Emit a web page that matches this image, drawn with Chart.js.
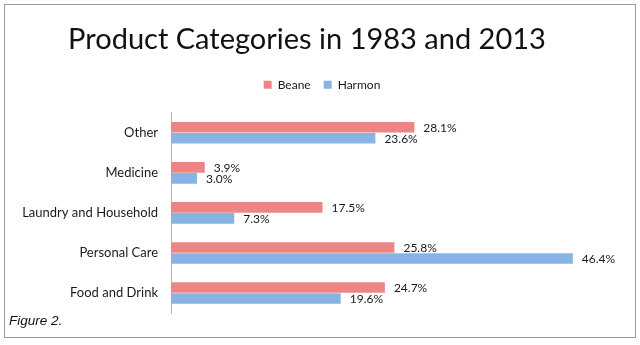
<!DOCTYPE html>
<html>
<head>
<meta charset="utf-8">
<script src="https://cdn.jsdelivr.net/npm/chart.js@4/dist/chart.umd.min.js"></script>
<style>
  body { margin: 0; background: #fff; }
  #wrap { position: relative; width: 640px; height: 345px; }
  #frame { position: absolute; left: 4px; top: 4px; width: 630px; height: 332px; border: 1px solid #9a9a9a; }
  #fig { position: absolute; left: 9px; top: 313px; font: italic 13.5px "Liberation Sans", Arial, sans-serif; color: #111; }
  canvas { position: absolute; left: 0; top: 0; }
</style>
</head>
<body>
<div id="wrap">
  <div id="frame"></div>
  <canvas id="chart" width="640" height="345"></canvas>
  <div id="fig">Figure 2.</div>
</div>
<script>
// data
const categories = ["Other", "Medicine", "Laundry and Household", "Personal Care", "Food and Drink"];
const beane = [28.1, 3.9, 17.5, 25.8, 24.7];
const harmon = [23.6, 3.0, 7.3, 46.4, 19.6];

/* value labels at bar ends */
const barLabels = {
  id: "barLabels",
  afterDatasetsDraw(chart) {
    const ctx = chart.ctx;
    ctx.save();
    ctx.font = "12px Lato";
    ctx.fillStyle = "#1a1a1a";
    ctx.textAlign = "left";
    ctx.textBaseline = "middle";
    chart.data.datasets.forEach((ds, i) => {
      chart.getDatasetMeta(i).data.forEach((bar, j) => {
        ctx.fillText(ds.data[j].toFixed(1) + "%", bar.x + 9, bar.y + 1);
      });
    });
    ctx.restore();
  },
};

// extra room under the legend, legend nudged right
const legendGap = {
  id: "legendGap",
  beforeInit(chart) {
    const fit = chart.legend.fit;
    chart.legend.fit = function () {
      fit.bind(chart.legend)();
      this.height += 12;
    };
  },
  afterLayout(chart) {
    chart.legend.left += 15;
    chart.legend.right += 15;
  },
};

new Chart(document.getElementById("chart"), {
  type: "bar",
  data: {
    labels: categories,
    datasets: [
      { label: "Beane", data: beane, backgroundColor: "#ec8686" },
      { label: "Harmon", data: harmon, backgroundColor: "#86b5e5" },
    ],
  },
  options: {
    indexAxis: "y",
    responsive: false,
    animation: false,
    categoryPercentage: 0.55,
    barPercentage: 0.96,
    layout: { padding: { top: 8, right: 36, bottom: 32, left: 10 } },
    scales: {
      x: { display: false, min: 0, max: 50 },
      y: {
        grid: { display: false },
        border: { display: true, color: "#b5b5b5" },
        ticks: { color: "#1a1a1a", font: { family: "Lato", size: 13 }, padding: 5 },
        afterFit(scale) { scale.width = 161; },
      },
    },
    plugins: {
      title: {
        display: true,
        text: "Product Categories in 1983 and 2013",
        color: "#111",
        font: { family: "Lato", size: 29, weight: "normal" },
        padding: { top: 14, bottom: 9 },
      },
      legend: {
        labels: {
          boxWidth: 8,
          boxHeight: 8,
          color: "#1a1a1a",
          font: { family: "Lato", size: 12 },
          padding: 13,
        },
      },
      tooltip: { enabled: false },
    },
  },
  plugins: [barLabels, legendGap],
});
</script>
</body>
</html>
